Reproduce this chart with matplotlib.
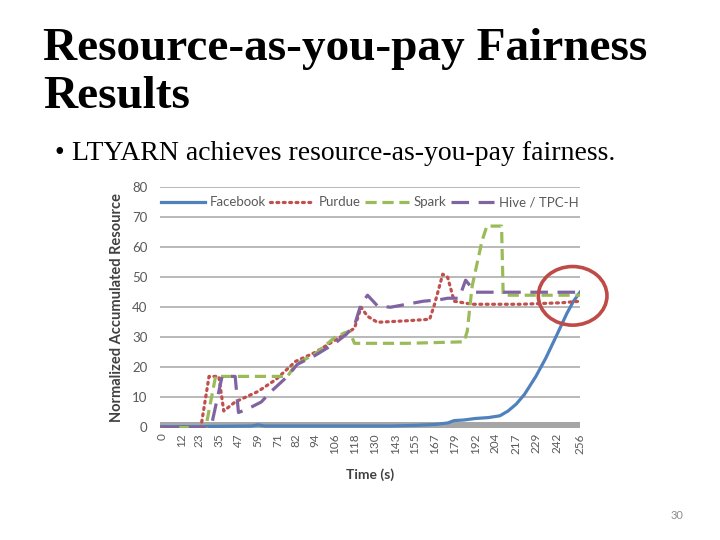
import numpy as np
import matplotlib.pyplot as plt
from matplotlib.patches import Ellipse

# time axis labels (s)
time_ticks = [0, 12, 23, 35, 47, 59, 71, 82, 94, 106, 118, 130, 143, 155,
              167, 179, 192, 204, 217, 229, 242, 256]

facebook_t = [0, 20, 40, 55, 59, 63, 80, 100, 120, 140, 155, 167, 175, 179,
              185, 192, 200, 207, 212, 217, 222, 229, 235, 242, 248, 252, 256]
facebook_v = [0.3, 0.3, 0.4, 0.5, 0.9, 0.5, 0.5, 0.5, 0.5, 0.5, 0.7, 1.0, 1.5,
              2.3, 2.5, 3.0, 3.3, 3.9, 5.5, 7.8, 11, 17, 23, 31, 38, 42, 45]

purdue_t = [0, 24, 29, 35, 38, 45, 59, 70, 76, 82, 94, 106, 112, 118, 122, 126,
            132, 150, 164, 167, 172, 175, 179, 190, 220, 245, 256]
purdue_v = [0, 0, 17, 17, 5.5, 8.5, 12, 16, 19, 22, 25, 29, 31, 33, 40, 37,
            35, 35.5, 36, 41, 51, 50, 42, 41, 41, 41.5, 42]

spark_t = [0, 27, 33, 77, 82, 94, 106, 112, 115, 118, 150, 185, 187, 190, 196,
           199, 208, 209, 256]
spark_v = [0, 0, 17, 17, 21, 24.5, 30, 31.5, 32, 28, 28, 28.5, 32, 47, 62,
           67, 67, 44, 44]

hive_t = [0, 28, 31, 37, 45, 47, 52, 61, 67, 77, 83, 94, 106, 113, 118, 122,
          126, 132, 140, 150, 160, 170, 175, 182, 186, 192, 200, 256]
hive_v = [0, 0, 2, 17, 17, 5, 6, 8.5, 12, 17, 21, 24, 28, 31, 34, 41, 44,
          40.5, 40, 41, 42, 42.5, 43, 43, 49, 45, 45, 45]

fig = plt.figure(figsize=(7.2, 5.4), dpi=100)
fig.patch.set_facecolor('white')

# slide text
serif = ['Liberation Serif', 'DejaVu Serif']
fig.text(43 / 720, 1 - 60 / 540, "Resource-as-you-pay Fairness",
         family=serif, fontweight='bold', fontsize=34, va='baseline')
fig.text(43 / 720, 1 - 108 / 540, "Results",
         family=serif, fontweight='bold', fontsize=34, va='baseline')
fig.text(54 / 720, 1 - 160 / 540, "\u2022", family=serif, fontsize=20, va='baseline')
fig.text(72 / 720, 1 - 160 / 540, "LTYARN achieves resource-as-you-pay fairness.",
         family=serif, fontsize=20, va='baseline')
fig.text(677 / 720, 1 - 519 / 540, "30", family='Lato', fontsize=8,
         color='#8c8c8c', ha='center')

ax = fig.add_axes([160 / 720, 1 - 427.5 / 540, 420 / 720, 240.5 / 540])
font = 'Lato'
txt = '#595959'

ax.axhspan(0, 1.7, color='#a6a6a6', zorder=1, lw=0)
ax.set_yticks(range(0, 81, 10))
ax.yaxis.grid(True, color='#b3b3b3', lw=1.3, zorder=0)
ax.set_axisbelow(True)

lw = 2.3
ax.plot(facebook_t, facebook_v, color='#4F81BD', lw=lw, label='Facebook', zorder=3)
ax.plot(purdue_t, purdue_v, color='#C0504D', lw=lw, ls=(0, (0.6, 1.4)),
        dash_capstyle='round', label='Purdue', zorder=3)
ax.plot(spark_t, spark_v, color='#9BBB59', lw=lw, ls=(0, (3.5, 1.8)),
        label='Spark', zorder=3)
ax.plot(hive_t, hive_v, color='#8064A2', lw=lw, ls=(0, (5.5, 3)),
        label='Hive / TPC-H', zorder=3)

ax.add_patch(Ellipse((251.5, 43.8), 42, 19.5, fill=False, ec='#BE4B48',
                     lw=2.6, clip_on=False, zorder=5))

ax.set_xlim(-1, 256)
ax.set_ylim(0, 80)
ax.set_xticks(time_ticks)
ax.set_xticklabels([str(t) for t in time_ticks], rotation=90, family=font,
                   fontsize=8.5, color=txt)
ax.set_yticklabels([str(v) for v in range(0, 81, 10)], family=font,
                   fontsize=9.5, color=txt)
ax.tick_params(axis='x', length=0, pad=4)
ax.tick_params(axis='y', length=0, pad=9)
for s in ax.spines.values():
    s.set_visible(False)

ax.set_xlabel("Time (s)", family=font, fontweight='bold', fontsize=10,
              color='#404040', va='center')
ax.xaxis.set_label_coords(0.5, -0.197)
ax.set_ylabel("Normalized Accumulated Resource", family=font, fontweight='bold',
              fontsize=10.5, color='#404040', va='center')
ax.yaxis.set_label_coords(-0.102, 0.5)

leg = ax.legend(loc='upper center', bbox_to_anchor=(0.5, 1.0), ncol=4,
                frameon=False, handlelength=3.3, columnspacing=0.35,
                handletextpad=0.35, prop={'family': font, 'size': 9.5},
                borderaxespad=0.3)
for t in leg.get_texts():
    t.set_color(txt)

fig.savefig('out.png', dpi=100)
